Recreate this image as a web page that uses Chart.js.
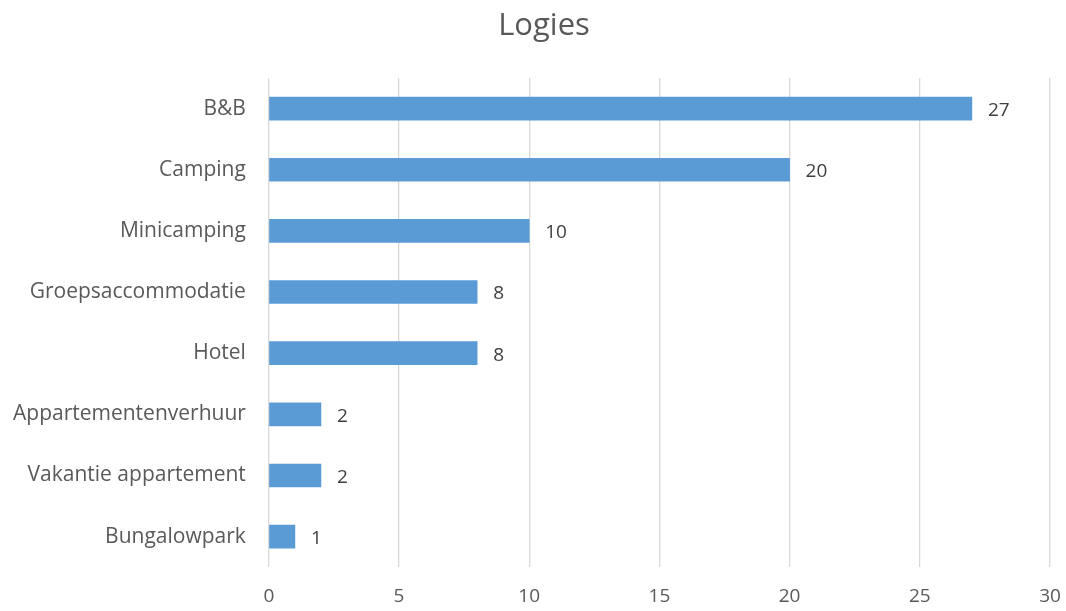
<!DOCTYPE html>
<html>
<head>
<meta charset="utf-8">
<script src="https://cdn.jsdelivr.net/npm/chart.js@4/dist/chart.umd.min.js"></script>
<style>
  html, body { margin: 0; padding: 0; background: #fff; }
  #wrap { width: 1066px; height: 611px; }
</style>
</head>
<body>
<div id="wrap"><canvas id="chart"></canvas></div>
<script>
const categories = ['B&B', 'Camping', 'Minicamping', 'Groepsaccommodatie', 'Hotel',
  'Appartementenverhuur', 'Vakantie appartement', 'Bungalowpark'];
const values = [27, 20, 10, 8, 8, 2, 2, 1];
const xTicks = [0, 5, 10, 15, 20, 25, 30];
const titleText = 'Logies';

const FONT = '"Open Sans", sans-serif';

// value labels at the end of each bar + title (Excel centres it a bit right of the canvas middle)
const barLabels = {
  id: 'barLabels',
  afterDatasetsDraw(chart) {
    const ctx = chart.ctx;
    const meta = chart.getDatasetMeta(0);
    ctx.save();
    ctx.font = '19px ' + FONT;
    ctx.fillStyle = '#404040';
    ctx.textBaseline = 'middle';
    meta.data.forEach((bar, i) => {
      ctx.fillText(values[i], bar.x + 16, bar.y + 2);
    });
    ctx.font = '31px ' + FONT;
    ctx.fillStyle = '#595959';
    ctx.textAlign = 'center';
    ctx.fillText(titleText, 544, 26);
    ctx.restore();
  }
};

new Chart(document.getElementById('chart'), {
  type: 'bar',
  data: {
    labels: categories,
    datasets: [{
      data: values,
      backgroundColor: '#5B9BD5',
      barThickness: 23
    }]
  },
  options: {
    indexAxis: 'y',
    responsive: true,
    maintainAspectRatio: false,
    animation: false,
    layout: { padding: { left: -10, right: 16, top: 78, bottom: -15 } },
    plugins: {
      legend: { display: false },
      tooltip: { enabled: false },
      title: { display: false }
    },
    scales: {
      x: {
        min: 0,
        max: 30,
        afterBuildTicks: axis => { axis.ticks = xTicks.map(v => ({ value: v })); },
        afterFit: axis => { axis.paddingRight = 0; axis.paddingLeft = 0; },
        grid: { color: '#D9D9D9', lineWidth: 1.3, drawTicks: false },
        border: { display: false },
        ticks: {
          color: '#595959',
          padding: 18,
          font: { family: FONT, size: 19 }
        }
      },
      y: {
        grid: { display: false, drawTicks: false },
        border: { display: false },
        ticks: {
          color: '#595959',
          padding: 23,
          font: { family: FONT, size: 21 }
        }
      }
    }
  },
  plugins: [barLabels]
});
</script>
</body>
</html>
